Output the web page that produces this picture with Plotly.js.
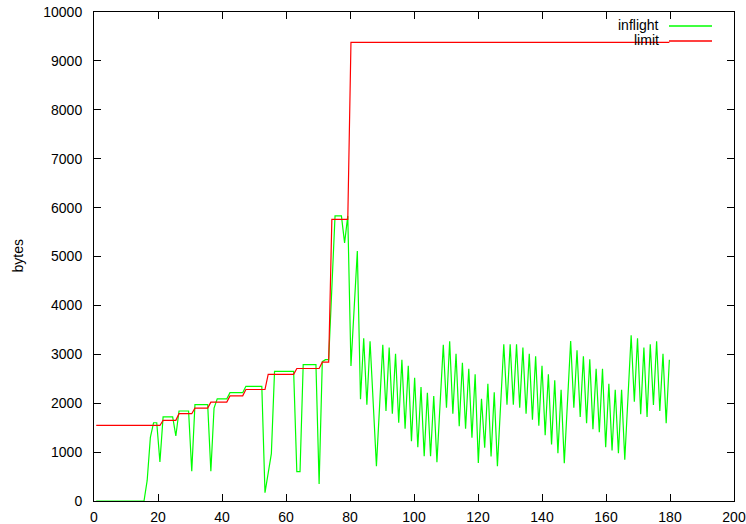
<!DOCTYPE html>
<html>
<head>
<meta charset="utf-8">
<script src="https://cdn.plot.ly/plotly-3.0.1.min.js"></script>
<style>
  html, body { margin: 0; padding: 0; background: #fff; }
  #chart { width: 746px; height: 524px; }
</style>
</head>
<body>
<div id="chart"></div>
<script>
// ---- data ----
const seriesNames = ["inflight", "limit"];

// sample clock: one sample per ~1 time unit
const sampleStart = 0.7;
const samplePeriod = 0.995;

const inflight = [
  0, 0, 0, 0, 0, 0, 0, 0, 0, 0, 0, 0, 0, 0, 0, 0,
  420, 1300, 1600, 1600, 800,
  1720, 1720, 1720, 1720, 1330,
  1840, 1840, 1840, 1840, 610,
  1970, 1970, 1970, 1970, 1970, 610,
  1900, 2090, 2090, 2090, 2090,
  2215, 2215, 2215, 2215, 2215,
  2345, 2345, 2345, 2345, 2345, 2345,
  170, 570, 970,
  2650, 2650, 2650, 2650, 2650, 2650, 2650,
  600, 600,
  2790, 2790, 2790, 2790, 2790,
  350, 2850, 2890, 2890,
  4360, 5830, 5830, 5830, 5280, 5830,
  2760, 3940, 5110, 2080, 3330, 1970, 3265, 1990, 713, 1955,
  3197, 1839, 3136, 1785, 3013, 1601, 2890, 1478, 2767, 1224,
  2522, 1101, 2330, 917, 2215, 917, 2146, 795, 1996, 3197,
  1908, 3265, 1785, 3013, 1531, 2829, 1478, 2706, 1294, 2590,
  780, 2092, 1089, 2399, 911, 2221, 713, 1960, 3204, 1969,
  3204, 1969, 3204, 1908, 3136, 1785, 3013, 1662, 2958, 1539,
  2767, 1347, 2590, 1157, 2467, 979, 2276, 774, 2020, 3272,
  1908, 3081, 1716, 2958, 1593, 2897, 1470, 2706, 1409, 2706,
  1101, 2399, 1034, 2276, 979, 2276, 843, 2110, 3388, 2030,
  3327, 1777, 3136, 1716, 3204, 1962, 3265, 1839, 3013, 1593,
  2890
];

const limit = [
  1545, 1545, 1545, 1545, 1545, 1545, 1545, 1545, 1545, 1545,
  1545, 1545, 1545, 1545, 1545, 1545, 1545, 1545, 1545, 1545, 1545,
  1650, 1650, 1650, 1650, 1650,
  1785, 1785, 1785, 1785, 1785,
  1900, 1900, 1900, 1900, 1900,
  2022, 2022, 2022, 2022, 2022, 2022,
  2150, 2150, 2150, 2150, 2150,
  2280, 2280, 2280, 2280, 2280, 2280, 2280,
  2590, 2590, 2590, 2590, 2590, 2590, 2590, 2590, 2590,
  2710, 2710, 2710, 2710, 2710, 2710, 2710, 2710,
  2840, 2840, 2840,
  5760, 5760, 5760, 5760, 5760, 5760,
  9380, 9380, 9380, 9380, 9380, 9380, 9380, 9380, 9380, 9380,
  9380, 9380, 9380, 9380, 9380, 9380, 9380, 9380, 9380, 9380,
  9380, 9380, 9380, 9380, 9380, 9380, 9380, 9380, 9380, 9380,
  9380, 9380, 9380, 9380, 9380, 9380, 9380, 9380, 9380, 9380,
  9380, 9380, 9380, 9380, 9380, 9380, 9380, 9380, 9380, 9380,
  9380, 9380, 9380, 9380, 9380, 9380, 9380, 9380, 9380, 9380,
  9380, 9380, 9380, 9380, 9380, 9380, 9380, 9380, 9380, 9380,
  9380, 9380, 9380, 9380, 9380, 9380, 9380, 9380, 9380, 9380,
  9380, 9380, 9380, 9380, 9380, 9380, 9380, 9380, 9380, 9380,
  9380, 9380, 9380, 9380, 9380, 9380, 9380, 9380, 9380, 9380,
  9380
];

const xTicks = [0, 20, 40, 60, 80, 100, 120, 140, 160, 180, 200];
const yTicks = [0, 1000, 2000, 3000, 4000, 5000, 6000, 7000, 8000, 9000, 10000];
const yLabel = "bytes";

// ---- build ----
const timeOf = arr => arr.map((_, i) => +(sampleStart + samplePeriod * i).toFixed(3));
const colors = ["#00ff00", "#ff0000"];

const traces = [
  { x: timeOf(inflight), y: inflight, name: seriesNames[0], type: "scatter", mode: "lines",
    line: { color: colors[0], width: 1.2 }, showlegend: false, hoverinfo: "x+y+name" },
  { x: timeOf(limit), y: limit, name: seriesNames[1], type: "scatter", mode: "lines",
    line: { color: colors[1], width: 1.2 }, showlegend: false, hoverinfo: "x+y+name" }
];

const W = 746, H = 524;
const M = { l: 94, r: 12, t: 12, b: 23 };
const pw = W - M.l - M.r, ph = H - M.t - M.b;
const px = p => (p - M.l) / pw;          // pixel -> paper x
const py = p => (H - M.b - p) / ph;      // pixel -> paper y

const font = { family: "Liberation Sans, Arial, Helvetica, sans-serif", size: 14, color: "#000" };

const axisCommon = {
  showgrid: false, zeroline: false, showline: true, linecolor: "#000", linewidth: 1,
  mirror: "ticks", ticks: "inside", ticklen: 7, tickwidth: 1, tickcolor: "#000",
  tickfont: font, fixedrange: true
};

// key (gnuplot style: text on the left, sample line on the right)
const keyRows = [
  { text: seriesNames[0], color: colors[0], y: 26 },
  { text: seriesNames[1], color: colors[1], y: 41 }
];

const layout = {
  width: W, height: H,
  margin: M,
  paper_bgcolor: "#fff", plot_bgcolor: "#fff",
  font: font,
  showlegend: false,
  xaxis: Object.assign({}, axisCommon, {
    range: [0, 200], tickvals: xTicks, ticktext: xTicks.map(String), ticklabelstandoff: 3
  }),
  yaxis: Object.assign({}, axisCommon, {
    range: [0, 10000], tickvals: yTicks, ticktext: yTicks.map(String), ticklabelstandoff: 8
  }),
  annotations: [
    { text: yLabel, xref: "paper", yref: "paper", x: 0, y: 0.5, xshift: -77,
      xanchor: "center", yanchor: "middle", textangle: -90, showarrow: false, font: font }
  ].concat(keyRows.map(r => ({
    text: r.text, xref: "paper", yref: "paper", x: px(661), y: py(r.y - 1),
    xanchor: "right", yanchor: "middle", showarrow: false, font: font
  }))),
  shapes: keyRows.map(r => ({
    type: "line", xref: "paper", yref: "paper",
    x0: px(669), x1: px(712), y0: py(r.y), y1: py(r.y),
    line: { color: r.color, width: 1.5 }
  }))
};

Plotly.newPlot("chart", traces, layout, { displayModeBar: false, staticPlot: true });
</script>
</body>
</html>
